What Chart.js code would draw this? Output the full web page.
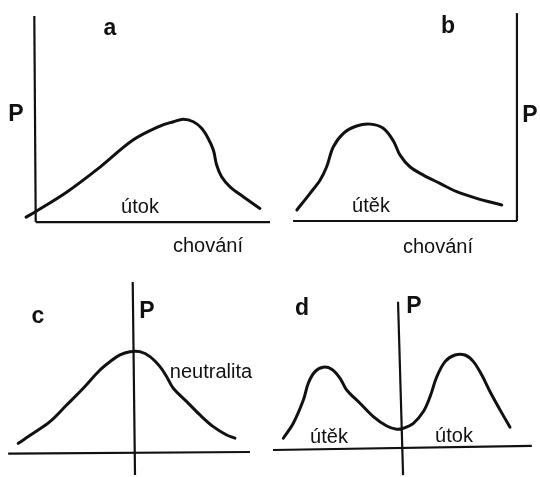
<!DOCTYPE html>
<html>
<head>
<meta charset="utf-8">
<script src="https://cdn.jsdelivr.net/npm/chart.js@4/dist/chart.umd.min.js"></script>
<style>
  html, body { margin: 0; padding: 0; background: #fff; }
  #wrap { position: relative; width: 540px; height: 477px; overflow: hidden; background: #fff; }
  #wrap canvas { position: absolute; }
</style>
</head>
<body>
<div id="wrap">
  <canvas id="pa" width="270" height="260" style="left:0;top:0"></canvas>
  <canvas id="pb" width="270" height="260" style="left:270px;top:0"></canvas>
  <canvas id="pc" width="270" height="217" style="left:0;top:260px"></canvas>
  <canvas id="pd" width="270" height="217" style="left:270px;top:260px"></canvas>
</div>
<script>
// Probability P of a behaviour, in arbitrary units (axis length = 100)

// a: attack (útok)
const attackX = [-3.8, 0, 13.6, 27.7, 41.7, 53.2, 58.9, 63.1, 67.4, 70.9, 73.7, 75.9, 77.3, 79.4, 83.0, 88.6, 95.7];
const attackP = [2.4, 4.9, 14.6, 26.7, 39.8, 46.6, 48.7, 49.9, 48.7, 45.5, 40.6, 35.0, 27.7, 22.0, 17.1, 12.3, 6.6];

// b: flight (útěk)
const flightX = [1.7, 7.6, 12.1, 15.0, 18.0, 22.5, 28.4, 34.4, 40.3, 44.8, 47.8, 52.2, 58.2, 65.6, 73.1, 82.0, 93.2];
const flightP = [5.3, 13.3, 19.7, 26.1, 35.7, 42.2, 45.7, 46.6, 44.6, 38.5, 31.7, 26.1, 22.1, 18.1, 14.1, 10.9, 7.7];

// c: neutrality (neutralita)
const neutralX = [-95.6, -83.1, -69.2, -55.3, -41.4, -27.5, -19.2, -10.8, -2.5, 5.8, 14.2, 22.5, 28.1, 33.6, 44.8, 55.8, 66.9, 78.1, 85.0];
const neutralP = [5.1, 11.0, 17.8, 27.6, 37.5, 48.2, 53.1, 57.1, 59.0, 59.0, 56.1, 50.2, 44.3, 37.5, 29.6, 21.8, 14.9, 10.0, 8.1];

// d: bimodal, flight on the left, attack on the right
const bimodalX = [-98.1, -89.8, -81.4, -77.3, -71.7, -64.8, -57.8, -50.8, -45.3, -34.2, -23.1, -11.9, -3.6, 1.9, 10.3, 18.6, 24.2, 29.8, 36.7, 45.0, 53.3, 60.3, 67.3, 74.2, 82.5, 90.8];
const bimodalP = [5.7, 14.5, 28.2, 38.1, 44.9, 47.5, 46.3, 41.0, 34.1, 26.3, 18.4, 12.9, 11.0, 11.6, 14.5, 21.4, 30.2, 41.9, 50.8, 54.7, 54.7, 50.8, 42.9, 33.1, 22.4, 12.2];

// axis lines per panel: [x0, y0, x1, y1]
const axesA = [[-0.3, 100, 0.3, 0], [0.3, 0, 100, 0]];
const axesB = [[0, 0, 100, 0], [100, 0, 100, 100]];
const axesC = [[-104, -1, 97.5, 0], [-0.2, 100, 1.7, -13.5]];
const axesD = [[-106.7, -1.2, 109, 1.2], [-2.5, 86, 1.7, -16]];

const INK = '#111111';
const BIG = 'bold 23px "Liberation Sans", Arial, sans-serif';
const SMALL = '20px "Liberation Sans", Arial, sans-serif';

const labelPlugin = {
  id: 'panelLabels',
  afterDatasetsDraw(chart) {
    const items = chart.options.plugins.panelLabels.items || [];
    const ctx = chart.ctx;
    ctx.save();
    ctx.fillStyle = INK;
    ctx.textAlign = 'center';
    ctx.textBaseline = 'alphabetic';
    items.forEach(it => {
      ctx.font = it.big ? BIG : SMALL;
      ctx.fillText(it.text, it.x, it.y);
    });
    ctx.restore();
  }
};

function zip(xs, ys) { return xs.map((x, i) => ({ x: x, y: ys[i] })); }

function panel(id, xr, yr, xs, ps, axes, labels) {
  const datasets = axes.map(a => ({
    data: [{ x: a[0], y: a[1] }, { x: a[2], y: a[3] }],
    borderColor: INK, borderWidth: 2.2, tension: 0, clip: false, pointRadius: 0
  }));
  datasets.push({
    data: zip(xs, ps),
    borderColor: INK, borderWidth: 3, tension: 0.35,
    borderCapStyle: 'round', borderJoinStyle: 'round',
    clip: false, pointRadius: 0
  });
  new Chart(document.getElementById(id), {
    type: 'line',
    data: { datasets: datasets },
    options: {
      responsive: false, animation: false, devicePixelRatio: 1,
      layout: { padding: 0 },
      scales: {
        x: { type: 'linear', display: false, min: xr[0], max: xr[1] },
        y: { type: 'linear', display: false, min: yr[0], max: yr[1] }
      },
      plugins: { legend: { display: false }, tooltip: { enabled: false }, panelLabels: { items: labels } },
      elements: { point: { radius: 0 } }
    },
    plugins: [labelPlugin]
  });
}

panel('pa', [-14.9, 100], [-18.4, 107.8], attackX, attackP, axesA, [
  { text: 'a', x: 110, y: 35, big: true },
  { text: 'P', x: 16, y: 121, big: true },
  { text: 'útok', x: 140, y: 213 },
  { text: 'chování', x: 208, y: 252 }
]);
panel('pb', [-10.3, 110.3], [-18.75, 106.3], flightX, flightP, axesB, [
  { text: 'b', x: 178, y: 33, big: true },
  { text: 'P', x: 260, y: 122, big: true },
  { text: 'útěk', x: 101, y: 212 },
  { text: 'chování', x: 168, y: 253 }
]);
panel('pc', [-110.8, 114.2], [-14.7, 112.9], neutralX, neutralP, axesC, [
  { text: 'c', x: 38, y: 63, big: true },
  { text: 'P', x: 147, y: 58, big: true },
  { text: 'neutralita', x: 211, y: 118 }
]);
panel('pd', [-109.2, 115.8], [-17.1, 110.6], bimodalX, bimodalP, axesD, [
  { text: 'd', x: 32, y: 55, big: true },
  { text: 'P', x: 144, y: 53, big: true },
  { text: 'útěk', x: 59, y: 183 },
  { text: 'útok', x: 184, y: 182 }
]);
</script>
</body>
</html>
